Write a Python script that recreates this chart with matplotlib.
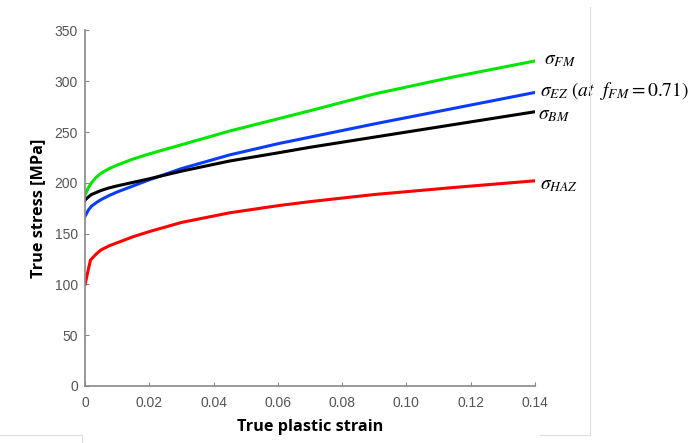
import matplotlib
matplotlib.use("Agg")
import matplotlib.pyplot as plt
from matplotlib.lines import Line2D

plt.rcParams['mathtext.fontset'] = 'stix'

# ----------- DATA ----------- #
strain = [0, 0.001, 0.002, 0.0035, 0.005, 0.0075, 0.01, 0.015, 0.02, 0.03, 0.045,
          0.06, 0.07, 0.09, 0.115, 0.14]
sigma_fm = [188, 195, 200, 205.5, 209.5, 214, 217.5, 223.5, 228.5, 237.5, 251,
            263, 271, 287.5, 304.5, 320]
sigma_ez = [167, 173, 177, 180.5, 183.5, 187.5, 191, 197, 203, 214, 227.5,
            238.5, 245, 258, 273.5, 289]
sigma_bm = [183, 186, 188.5, 190.5, 192.5, 195, 197, 200.5, 204, 211.5, 221.5,
            229.5, 235, 245, 257.5, 270]

strain_haz = [0, 0.0017, 0.0035, 0.005, 0.0075, 0.01, 0.015, 0.02, 0.03, 0.045,
              0.06, 0.07, 0.09, 0.115, 0.14]
sigma_haz = [100, 124, 130, 134, 138, 141, 147, 152, 161, 170.5,
             177.5, 181.5, 188.5, 195.5, 202]

labels = [r'$\sigma_{FM}$', r'$\sigma_{EZ}\ (at\ \ f_{FM}=0.71)$', r'$\sigma_{BM}$', r'$\sigma_{HAZ}$']
label_pos = [(0.1428, 321), (0.1416, 290), (0.1410, 267), (0.1416, 198)]

xticks = [0, 0.02, 0.04, 0.06, 0.08, 0.10, 0.12, 0.14]
xticklabels = ['0', '0.02', '0.04', '0.06', '0.08', '0.10', '0.12', '0.14']
yticks = [0, 50, 100, 150, 200, 250, 300, 350]

# ----------- PLOT ----------- #
fig = plt.figure(figsize=(6.94, 4.43), dpi=100)
ax = fig.add_axes([0.1225, 0.1287, 0.6484, 0.8025])

ax.plot(strain, sigma_fm, color='#00e600', lw=2.2)
ax.plot(strain, sigma_ez, color='#0a3cff', lw=2.2)
ax.plot(strain, sigma_bm, color='black', lw=2.2)
ax.plot(strain_haz, sigma_haz, color='#ff0000', lw=2.2)

for txt, (tx, ty) in zip(labels, label_pos):
    ax.text(tx, ty, txt, fontsize=14, va='center', ha='left', clip_on=False)

ax.set_xlim(0, 0.14)
ax.set_ylim(0, 350)
ax.set_xticks(xticks)
ax.set_xticklabels(xticklabels)
ax.set_yticks(yticks)

for side in ['top', 'right']:
    ax.spines[side].set_visible(False)
for side in ['left', 'bottom']:
    ax.spines[side].set_color('#888888')
    ax.spines[side].set_linewidth(1.2)

ax.tick_params(direction='in', length=3, color='#888888', labelcolor='#555555',
               labelsize=10)
ax.tick_params(axis='x', pad=7)
ax.tick_params(axis='y', pad=5)
for lab in ax.get_xticklabels() + ax.get_yticklabels():
    lab.set_fontfamily('Liberation Sans')

ax.set_xlabel('True plastic strain', fontsize=11.7, fontweight='bold',
              family='Open Sans', labelpad=7)
ax.set_ylabel('True stress [MPa]', fontsize=11.7, fontweight='bold',
              family='Open Sans', labelpad=6)

# faint screenshot frame lines
fig.add_artist(Line2D([590 / 694, 590 / 694], [1 - 7 / 443, 1 - 435 / 443],
                      color='#dddddd', lw=0.8))
fig.add_artist(Line2D([540 / 694, 590 / 694], [1 - 435 / 443, 1 - 435 / 443],
                      color='#dddddd', lw=0.8))
fig.add_artist(Line2D([0, 82 / 694], [1 - 435 / 443, 1 - 435 / 443],
                      color='#dddddd', lw=0.8))
fig.add_artist(Line2D([82 / 694, 82 / 694], [1 - 435 / 443, 0],
                      color='#dddddd', lw=0.8))

fig.savefig('out.png', dpi=100)
